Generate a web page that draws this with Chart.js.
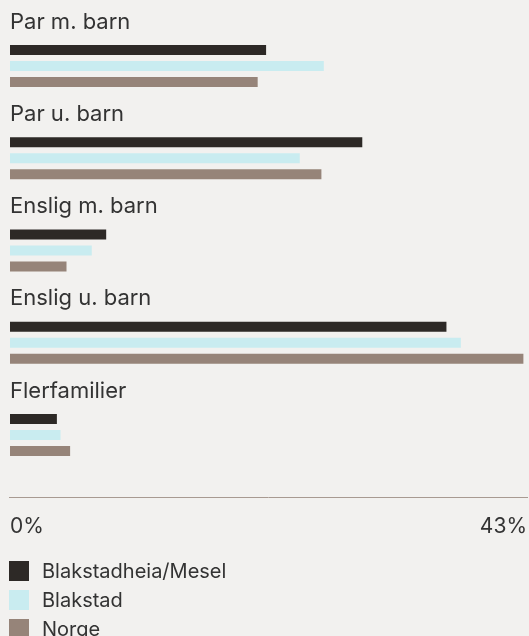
<!DOCTYPE html>
<html>
<head>
<meta charset="utf-8">
<script src="https://cdn.jsdelivr.net/npm/chart.js@4.4.1/dist/chart.umd.min.js"></script>
<style>
  html, body { margin: 0; padding: 0; background: #f2f1ef; }
  #wrap { position: relative; width: 529px; height: 636px; overflow: hidden; }
  #legend { position: absolute; left: 9px; top: 561px; font-family: Inter, sans-serif; font-size: 20px; color: #333; }
  #legend div { display: flex; align-items: center; height: 29px; }
  #legend span.box { width: 20px; height: 20px; margin-right: 13px; margin-top: -9px; }
  #legend span.txt { margin-top: -9px; }
</style>
</head>
<body>
<div id="wrap">
  <canvas id="chart" width="529" height="636"></canvas>
  <div id="legend"></div>
</div>
<script>
const categories = ['Par m. barn', 'Par u. barn', 'Enslig m. barn', 'Enslig u. barn', 'Flerfamilier'];
const seriesNames = ['Blakstadheia/Mesel', 'Blakstad', 'Norge'];
const blakstadheia = [21.3, 29.3, 8.0, 36.3, 3.9];
const blakstad = [26.1, 24.1, 6.8, 37.5, 4.2];
const norge = [20.6, 25.9, 4.7, 42.7, 5.0];
const axisMax = 43;
const tickValues = [0, 43];

const colors = ['#2d2926', '#c9ecf0', '#968479'];

// category names sit above each group of bars
const groupLabels = {
  id: 'groupLabels',
  afterDatasetsDraw(chart) {
    const { ctx, scales } = chart;
    ctx.save();
    ctx.font = '22px Inter';
    ctx.fillStyle = '#333';
    ctx.textBaseline = 'middle';
    ctx.textAlign = 'left';
    categories.forEach((c, i) => {
      ctx.fillText(c, 10, scales.y.getPixelForValue(i) - 44);
    });
    // axis line, a bit below the bars
    const y = chart.chartArea.bottom + 16.5;
    ctx.strokeStyle = '#a89a91';
    ctx.lineWidth = 1;
    ctx.beginPath();
    ctx.moveTo(9, y);
    ctx.lineTo(scales.x.right + 1, y);
    ctx.stroke();
    ctx.restore();
  }
};

const ctx = document.getElementById('chart').getContext('2d');
new Chart(ctx, {
  type: 'bar',
  data: {
    labels: categories,
    datasets: [blakstadheia, blakstad, norge].map((d, i) => ({
      label: seriesNames[i],
      data: d,
      backgroundColor: colors[i],
      categoryPercentage: 0.52,
      barPercentage: 0.625
    }))
  },
  options: {
    indexAxis: 'y',
    responsive: false,
    animation: false,
    layout: { padding: { top: 20, left: 10, right: 2, bottom: 95 } },
    plugins: {
      legend: { display: false },
      tooltip: { enabled: false }
    },
    scales: {
      y: { display: false },
      x: {
        min: 0,
        max: axisMax,
        border: { display: false },
        grid: { display: false, drawTicks: false },
        afterBuildTicks: s => { s.ticks = tickValues.map(v => ({ value: v })); },
        afterFit: s => {
          s.height = 60;
          s.paddingLeft = 0;
          s.paddingRight = 0;
        },
        ticks: {
          align: 'inner',
          maxRotation: 0,
          padding: 33,
          color: '#333',
          font: { family: 'Inter', size: 21 },
          callback: v => v + '%'
        }
      }
    }
  },
  plugins: [groupLabels]
});

const legend = document.getElementById('legend');
seriesNames.forEach((n, i) => {
  const row = document.createElement('div');
  row.innerHTML = '<span class="box" style="background:' + colors[i] + '"></span><span class="txt"></span>';
  row.querySelector('.txt').textContent = n;
  legend.appendChild(row);
});
</script>
</body>
</html>
